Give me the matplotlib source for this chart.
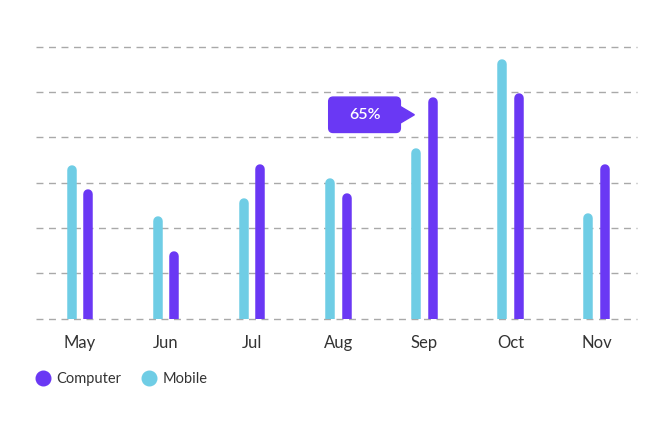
import matplotlib.pyplot as plt
import numpy as np
from matplotlib.lines import Line2D
from matplotlib.patches import FancyBboxPatch, Polygon
from matplotlib.transforms import ScaledTranslation, offset_copy

plt.rcParams['font.family'] = ['Lato', 'DejaVu Sans']
plt.rcParams['lines.scale_dashes'] = False

months = ["May", "Jun", "Jul", "Aug", "Sep", "Oct", "Nov"]
computer = [28.6, 14.9, 34.1, 27.7, 49.0, 49.8, 34.1]
mobile = [33.9, 22.7, 26.6, 31.0, 37.7, 57.3, 23.2]
callout_label = "65%"
callout_month = "Sep"

purple = "#6a38f4"
blue = "#6fcde5"
grid_c = "#a9a9a9"
text_c = "#333333"

fig = plt.figure(figsize=(6.72, 4.38), dpi=100)
ax = fig.add_axes([36 / 672, (438 - 318.5) / 438, 601 / 672, (318.5 - 47) / 438])

x = np.arange(len(months))
off = 0.096
bar_w_pt = 9.5 * 72 / 100  # ~9.5 px wide bars
r_pt = bar_w_pt / 2
# round cap: shift the line down by its radius so the top of the cap sits at the value
shifted = offset_copy(ax.transData, fig, x=0, y=-r_pt, units='points')

for xi, m, c in zip(x, mobile, computer):
    ax.plot([xi - off, xi - off], [-5, m], color=blue, lw=bar_w_pt,
            solid_capstyle='round', transform=shifted, zorder=3)
    ax.plot([xi + off, xi + off], [-5, c], color=purple, lw=bar_w_pt,
            solid_capstyle='round', transform=shifted, zorder=3)

ax.set_xlim(-0.511, 6.469)
ax.set_ylim(0, 60)
ax.set_yticks(np.arange(0, 61, 10))
ax.yaxis.grid(True, color=grid_c, lw=1.0, linestyle=(0, (5, 4)))
for gl in ax.get_ygridlines():
    gl.set_clip_on(False)
ax.set_axisbelow(True)
ax.tick_params(axis='y', left=False, labelleft=False)
ax.set_xticks(x)
ax.set_xticklabels(months)
ax.tick_params(axis='x', length=0, pad=12, labelsize=12, labelcolor=text_c)
for s in ax.spines.values():
    s.set_visible(False)

# callout next to the Sep computer bar
i = months.index(callout_month)
trans = fig.dpi_scale_trans + ScaledTranslation(x[i] + off, computer[i], ax.transData)
box = FancyBboxPatch((-1.04, -0.357), 0.717, 0.354,
                     boxstyle="round,pad=0,rounding_size=0.045",
                     transform=trans, color=purple, clip_on=False, zorder=5)
fig.add_artist(box)
tri = Polygon([(-0.335, -0.09), (-0.183, -0.18), (-0.335, -0.27)],
              closed=True, transform=trans, color=purple, clip_on=False, zorder=5)
fig.add_artist(tri)
fig.text(-0.68, -0.18, callout_label, transform=trans, color="white",
         fontsize=11.5, fontweight='semibold', ha='center', va='center', zorder=6)

handles = [Line2D([], [], marker='o', ls='', ms=10.5, color=purple),
           Line2D([], [], marker='o', ls='', ms=10.5, color=blue)]
fig.legend(handles, ["Computer", "Mobile"], loc='center left',
           bbox_to_anchor=(23 / 672, 1 - 379 / 438), ncol=2, frameon=False,
           handlelength=1.0, handletextpad=0.4, columnspacing=1.4,
           prop={'size': 10.5}, labelcolor=text_c)

fig.savefig("out.png", dpi=100)
